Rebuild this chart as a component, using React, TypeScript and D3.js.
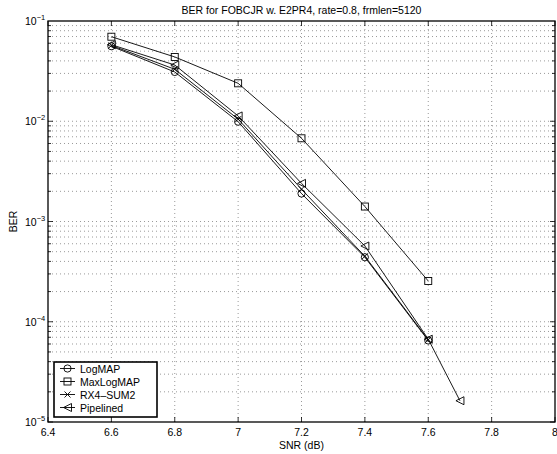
import React, { useEffect, useRef } from 'react';
import * as d3 from 'd3';

// SNR points (dB)
const snr = [6.6, 6.8, 7.0, 7.2, 7.4, 7.6];
const snrPipelined = [6.6, 6.8, 7.0, 7.2, 7.4, 7.6, 7.7];

// BER values
const logMap = [0.056, 0.031, 0.0099, 0.0019, 0.00044, 0.000065];
const maxLogMap = [0.0697, 0.0438, 0.0239, 0.00676, 0.00141, 0.000255];
const rx4Sum2 = [0.057, 0.033, 0.0105, 0.0021, 0.00045, 0.000066];
const pipelined = [0.058, 0.0364, 0.0113, 0.0024, 0.00057, 0.000067, 0.0000163];

const seriesNames = ['LogMAP', 'MaxLogMAP', 'RX4\u2013SUM2', 'Pipelined'];
const seriesMarkers = ['circle', 'square', 'cross', 'triangle'];

const xTicks = [6.4, 6.6, 6.8, 7, 7.2, 7.4, 7.6, 7.8, 8];
const yDecades = [-5, -4, -3, -2, -1];

export default function App() {
  const ref = useRef<SVGSVGElement>(null);

  const WIDTH = 557;
  const HEIGHT = 454;
  const FONT = 'Liberation Sans, Arial, Helvetica, sans-serif';
  const margin = { left: 48, right: 2, top: 21, bottom: 32 };

  function drawMarker(g: any, kind: string, x: number, y: number) {
    if (kind === 'circle') {
      g.append('circle').attr('cx', x).attr('cy', y).attr('r', 3.6)
        .attr('fill', 'none').attr('stroke', '#000').attr('stroke-width', 0.9);
    } else if (kind === 'square') {
      g.append('rect').attr('x', x - 3.5).attr('y', y - 3.5).attr('width', 7).attr('height', 7)
        .attr('fill', 'none').attr('stroke', '#000').attr('stroke-width', 0.9);
    } else if (kind === 'cross') {
      const s = 3;
      g.append('path').attr('d', `M${x - s},${y - s}L${x + s},${y + s}M${x - s},${y + s}L${x + s},${y - s}`)
        .attr('stroke', '#000').attr('stroke-width', 0.9);
    } else {
      const s = 4;
      g.append('path').attr('d', `M${x - s},${y}L${x + s},${y - s}L${x + s},${y + s}Z`)
        .attr('fill', 'none').attr('stroke', '#000').attr('stroke-width', 0.9);
    }
  }

  function draw() {
    const svg = d3.select(ref.current);
    svg.selectAll('*').remove();

    const x = d3.scaleLinear().domain([6.4, 8]).range([margin.left, WIDTH - margin.right]);
    const y = d3.scaleLog().domain([1e-5, 1e-1]).range([HEIGHT - margin.bottom, margin.top]);
    const x0 = x.range()[0], x1 = x.range()[1];
    const y0 = y.range()[0], y1 = y.range()[1];

    svg.append('rect').attr('x', 0).attr('y', 0).attr('width', WIDTH).attr('height', HEIGHT).attr('fill', '#fff');

    const grid = svg.append('g').attr('stroke', '#555').attr('stroke-width', 0.6)
      .attr('stroke-dasharray', '1,3');
    // vertical grid
    xTicks.slice(1, -1).forEach(t => {
      grid.append('line').attr('x1', x(t)).attr('x2', x(t)).attr('y1', y1).attr('y2', y0);
    });
    // horizontal grid including minor decades
    const minor: number[] = [];
    yDecades.slice(0, -1).forEach(d => {
      for (let m = 1; m <= 9; m++) minor.push(m * Math.pow(10, d));
    });
    minor.filter(v => v > 1e-5).forEach(v => {
      grid.append('line').attr('x1', x0).attr('x2', x1).attr('y1', y(v)).attr('y2', y(v));
    });

    // ticks inside on all four sides
    const ticks = svg.append('g').attr('stroke', '#000').attr('stroke-width', 0.8);
    xTicks.forEach(t => {
      ticks.append('line').attr('x1', x(t)).attr('x2', x(t)).attr('y1', y0).attr('y2', y0 - 5);
      ticks.append('line').attr('x1', x(t)).attr('x2', x(t)).attr('y1', y1).attr('y2', y1 + 5);
    });
    minor.forEach(v => {
      const major = Math.abs(Math.log10(v) - Math.round(Math.log10(v))) < 1e-9;
      const len = major ? 5 : 3;
      ticks.append('line').attr('x1', x0).attr('x2', x0 + len).attr('y1', y(v)).attr('y2', y(v));
      ticks.append('line').attr('x1', x1).attr('x2', x1 - len).attr('y1', y(v)).attr('y2', y(v));
    });

    // data lines and markers
    const allX = [snr, snr, snr, snrPipelined];
    const allY = [logMap, maxLogMap, rx4Sum2, pipelined];
    const line = d3.line<[number, number]>().x(d => x(d[0])).y(d => y(d[1]));
    const dataG = svg.append('g');
    allY.forEach((vals, i) => {
      const pts = vals.map((v, j) => [allX[i][j], v] as [number, number]);
      dataG.append('path').attr('d', line(pts)).attr('fill', 'none')
        .attr('stroke', '#000').attr('stroke-width', 0.9);
      pts.forEach(p => drawMarker(dataG, seriesMarkers[i], x(p[0]), y(p[1])));
    });

    // frame
    svg.append('rect').attr('x', x0).attr('y', y1).attr('width', x1 - x0).attr('height', y0 - y1)
      .attr('fill', 'none').attr('stroke', '#000').attr('stroke-width', 1.3);

    // x tick labels
    xTicks.forEach(t => {
      svg.append('text').attr('x', x(t)).attr('y', y0 + 14).attr('text-anchor', 'middle')
        .attr('font-family', FONT).attr('font-size', 10.5).text(String(t));
    });
    // y tick labels 10^n
    yDecades.forEach(d => {
      const t = svg.append('text').attr('x', 25).attr('y', y(Math.pow(10, d)) + 4)
        .attr('font-family', FONT).attr('font-size', 10.5);
      t.append('tspan').text('10');
      t.append('tspan').attr('dy', -5).attr('font-size', 7.5).text('\u2212' + Math.abs(d));
    });

    // axis labels and title
    svg.append('text').attr('x', (x0 + x1) / 2).attr('y', y0 + 27).attr('text-anchor', 'middle')
      .attr('font-family', FONT).attr('font-size', 10.5).text('SNR (dB)');
    svg.append('text').attr('transform', `translate(17,${(y0 + y1) / 2}) rotate(-90)`)
      .attr('text-anchor', 'middle').attr('font-family', FONT).attr('font-size', 10.5).text('BER');
    svg.append('text').attr('x', (x0 + x1) / 2).attr('y', 14).attr('text-anchor', 'middle')
      .attr('font-family', FONT).attr('font-size', 10.5)
      .text('BER for FOBCJR w. E2PR4, rate=0.8, frmlen=5120');

    // legend
    const lg = svg.append('g');
    lg.append('rect').attr('x', 54).attr('y', 362).attr('width', 103).attr('height', 55)
      .attr('fill', '#fff').attr('stroke', '#000').attr('stroke-width', 1.6);
    seriesNames.forEach((name, i) => {
      const ly = 368.5 + i * 13;
      lg.append('line').attr('x1', 60).attr('x2', 75).attr('y1', ly).attr('y2', ly)
        .attr('stroke', '#000').attr('stroke-width', 0.9);
      drawMarker(lg, seriesMarkers[i], 67.5, ly);
      lg.append('text').attr('x', 80).attr('y', ly + 4).attr('font-family', FONT)
        .attr('font-size', 10.5).text(name);
    });
  }

  useEffect(() => {
    draw();
  }, []);

  return (
    <svg ref={ref} width={WIDTH} height={HEIGHT}
      style={{ position: 'absolute', left: 0, top: 0, display: 'block' }} />
  );
}
